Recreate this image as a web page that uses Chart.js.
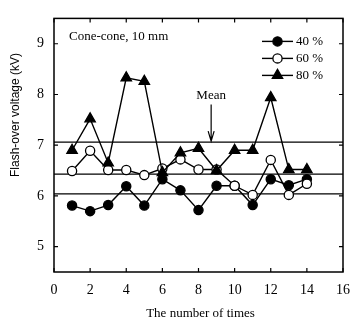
<!DOCTYPE html>
<html>
<head>
<meta charset="utf-8">
<script src="https://cdn.jsdelivr.net/npm/chart.js@4"></script>
<style>
  html, body { margin: 0; padding: 0; background: #fff; }
</style>
</head>
<body>
<canvas id="chart" width="360" height="320"></canvas>
<script>
// test runs and flash-over voltages (kV)
const runs = [1, 2, 3, 4, 5, 6, 7, 8, 9, 10, 11, 12, 13, 14];
const flash40 = [5.81, 5.70, 5.82, 6.19, 5.81, 6.33, 6.11, 5.72, 6.20, 6.20, 5.82, 6.33, 6.21, 6.33];
const flash60 = [6.49, 6.89, 6.51, 6.51, 6.41, 6.54, 6.72, 6.52, 6.52, 6.20, 6.02, 6.71, 6.02, 6.24];
const flash80 = [6.90, 7.52, 6.65, 8.33, 8.26, 6.46, 6.85, 6.94, 6.50, 6.90, 6.90, 7.94, 6.52, 6.52];
const meanLevels = [6.04, 6.43, 7.06];
const seriesLabels = ['40 %', '60 %', '80 %'];
const xTickValues = [0, 2, 4, 6, 8, 10, 12, 14, 16];
const yTickValues = [5, 6, 7, 8, 9];

const serif = "'Liberation Serif', 'DejaVu Serif', serif";
const sans = "'Liberation Sans', Arial, sans-serif";

const markerStyles = [
    {pointStyle: 'circle', radius: 4.6, fill: '#000'},
    {pointStyle: 'circle', radius: 4.6, fill: '#fff'},
    {pointStyle: 'triangle', radius: 6, fill: '#000'}
];

const toPoints = (vals) => runs.map((r, i) => ({x: r, y: vals[i]}));

const datasets = [flash40, flash60, flash80].map((vals, i) => ({
    label: seriesLabels[i],
    data: toPoints(vals),
    borderColor: '#000',
    borderWidth: 1.4,
    backgroundColor: markerStyles[i].fill,
    pointStyle: markerStyles[i].pointStyle,
    pointRadius: markerStyles[i].radius,
    pointBorderWidth: 1.3,
    pointBorderColor: '#000',
    pointBackgroundColor: markerStyles[i].fill,
    tension: 0,
    order: 3 - i
}));

meanLevels.forEach((m) => {
    datasets.push({
        label: 'mean',
        data: [{x: 0, y: m}, {x: 16, y: m}],
        borderColor: '#000',
        borderWidth: 1.2,
        pointRadius: 0,
        order: 10
    });
});

// frame, inward ticks, legend and notes
const paperPlugin = {
    id: 'paper',
    afterDatasetsDraw(chart) {
        const {ctx, chartArea: a, scales} = chart;
        const xs = scales.x, ys = scales.y;
        ctx.save();
        ctx.strokeStyle = '#000';
        ctx.lineWidth = 1.5;
        ctx.strokeRect(a.left, a.top, a.right - a.left, a.bottom - a.top);

        ctx.lineWidth = 1.2;
        ctx.beginPath();
        xTickValues.forEach((v) => {
            const px = xs.getPixelForValue(v);
            ctx.moveTo(px, a.bottom); ctx.lineTo(px, a.bottom - 4);
            ctx.moveTo(px, a.top); ctx.lineTo(px, a.top + 4);
        });
        yTickValues.forEach((v) => {
            const py = ys.getPixelForValue(v);
            ctx.moveTo(a.left, py); ctx.lineTo(a.left + 4, py);
            ctx.moveTo(a.right, py); ctx.lineTo(a.right - 4, py);
        });
        ctx.stroke();

        // note in the corner
        ctx.fillStyle = '#000';
        ctx.font = '13px ' + serif;
        ctx.textBaseline = 'middle';
        ctx.textAlign = 'left';
        ctx.fillText('Cone-cone, 10 mm', a.left + 15, a.top + 18);

        // legend
        for (let i = 0; i < 3; i++) {
            const y = a.top + 23 + i * 17;
            const x0 = a.right - 81, x1 = a.right - 50;
            ctx.strokeStyle = '#000';
            ctx.lineWidth = 1.4;
            ctx.beginPath();
            ctx.moveTo(x0, y); ctx.lineTo(x1, y);
            ctx.stroke();
            ctx.fillStyle = markerStyles[i].fill;
            ctx.lineWidth = 1.3;
            Chart.helpers.drawPoint(ctx, {
                pointStyle: markerStyles[i].pointStyle,
                radius: markerStyles[i].radius,
                rotation: 0,
                borderWidth: 1.3
            }, (x0 + x1) / 2, y);
            ctx.fillStyle = '#000';
            ctx.font = '13px ' + serif;
            ctx.fillText(seriesLabels[i], x1 + 3, y);
        }

        // "Mean" arrow
        const mx = xs.getPixelForValue(8.7);
        const tipY = ys.getPixelForValue(meanLevels[2]) - 1;
        ctx.font = '13px ' + serif;
        ctx.textAlign = 'center';
        ctx.fillText('Mean', mx, a.top + 77);
        ctx.lineWidth = 1.2;
        ctx.beginPath();
        ctx.moveTo(mx, a.top + 86); ctx.lineTo(mx, tipY);
        ctx.moveTo(mx - 3, tipY - 10); ctx.lineTo(mx, tipY); ctx.lineTo(mx + 3, tipY - 10);
        ctx.stroke();

        // axis titles
        ctx.font = '13px ' + serif;
        ctx.fillText('The number of times', (a.left + a.right) / 2 + 2, 314);
        ctx.translate(16, 115);
        ctx.rotate(-Math.PI / 2);
        ctx.font = '12px ' + sans;
        ctx.fillText('Flash-over voltage (kV)', 0, 0);
        ctx.restore();
    }
};

new Chart(document.getElementById('chart'), {
    type: 'line',
    data: {datasets},
    options: {
        responsive: false,
        animation: false,
        devicePixelRatio: 1,
        layout: {padding: {left: 0, right: 7, top: 12, bottom: 0}},
        plugins: {legend: {display: false}, tooltip: {enabled: false}},
        scales: {
            x: {
                type: 'linear',
                min: 0,
                max: 16,
                afterBuildTicks: (s) => { s.ticks = xTickValues.map((v) => ({value: v})); },
                afterFit: (s) => { s.height = 48; },
                grid: {display: false, drawTicks: false},
                border: {display: false},
                ticks: {color: '#000', padding: 10, maxRotation: 0, font: {family: serif, size: 14}}
            },
            y: {
                min: 4.5,
                max: 9.5,
                afterBuildTicks: (s) => { s.ticks = yTickValues.map((v) => ({value: v})); },
                afterFit: (s) => { s.width = 54; },
                grid: {display: false, drawTicks: false},
                border: {display: false},
                ticks: {color: '#000', padding: 10, font: {family: serif, size: 14}}
            }
        }
    },
    plugins: [paperPlugin]
});
</script>
</body>
</html>
